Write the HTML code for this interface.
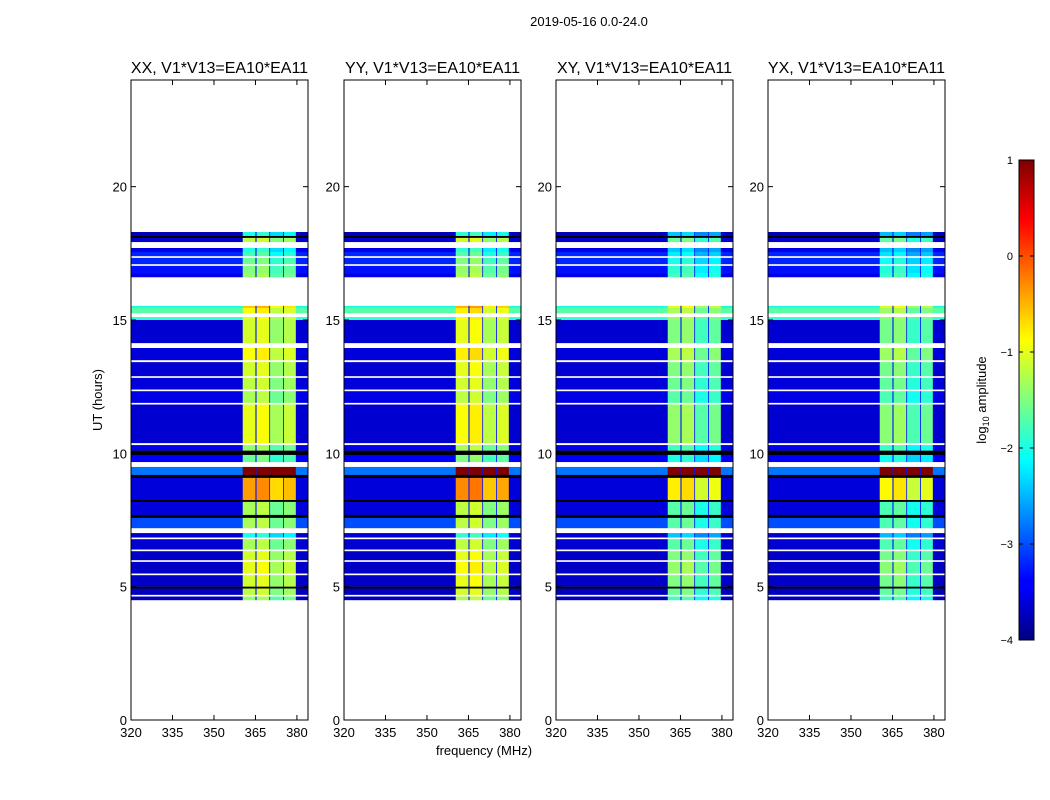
<!DOCTYPE html>
<html><head><meta charset="utf-8">
<style>
html,body{margin:0;padding:0;background:#fff;}
svg{display:block;font-family:"Liberation Sans","DejaVu Sans",sans-serif;}
</style></head>
<body>
<svg id="fig" width="1050" height="800" viewBox="0 0 1050 800">
<defs>
<linearGradient id="jetgrad" x1="0" y1="1" x2="0" y2="0">
<stop offset="0" stop-color="#00007f"/><stop offset="0.11" stop-color="#0000ff"/>
<stop offset="0.125" stop-color="#0000ff"/><stop offset="0.34" stop-color="#00dfff"/>
<stop offset="0.375" stop-color="#00ffff"/><stop offset="0.5" stop-color="#7fff7f"/>
<stop offset="0.625" stop-color="#ffff00"/><stop offset="0.66" stop-color="#ffdf00"/>
<stop offset="0.875" stop-color="#ff0000"/><stop offset="1" stop-color="#7f0000"/>
</linearGradient>
</defs>
<text x="589" y="26" font-size="13" text-anchor="middle">2019-05-16 0.0-24.0</text>
<g id="panels"></g>
<text x="484" y="755" font-size="13" text-anchor="middle">frequency (MHz)</text>
<text x="102" y="400" font-size="13" text-anchor="middle" transform="rotate(-90 102 400)">UT (hours)</text>
<g id="cbar"></g>
</svg>
<script>
const panelTitles = ["XX, V1*V13=EA10*EA11","YY, V1*V13=EA10*EA11","XY, V1*V13=EA10*EA11","YX, V1*V13=EA10*EA11"];
const panelBandOffset = [0, 0.1, -0.4, -0.45];
const bandOffsets = [0, 0.1, -0.3, -0.15];
const xTicks = [320,335,350,365,380];
const yTicks = [0,5,10,15,20];
const cbarTicks = [1,0,-1,-2,-3,-4];
// [tStart, tEnd, baseLevel, bandLevel]; null = flagged (blank), -99 = black
const rows = [
[18.30,18.15,-3.7,-2.0],[18.15,18.08,-99,-99],[18.08,17.93,-3.6,-1.2],[17.93,17.70,null,null],
[17.70,17.55,-3.5,-2.0],[17.55,17.40,-3.2,-1.8],[17.40,17.33,null,null],[17.33,17.10,-3.2,-1.6],
[17.10,17.03,null,null],[17.03,16.76,-3.3,-1.5],[16.76,16.61,-3.5,-1.4],[16.61,15.53,null,null],
[15.53,15.45,-2.0,-0.6],[15.45,15.26,-1.7,-0.9],[15.26,15.11,null,null],[15.11,15.00,-1.9,-1.0],
[15.00,14.14,-3.6,-1.1],[14.14,13.95,null,null],[13.95,13.50,-3.55,-0.9],[13.50,13.42,null,null],
[13.42,12.90,-3.6,-1.1],[12.90,12.83,null,null],[12.83,12.40,-3.55,-1.2],[12.40,12.33,null,null],
[12.33,11.90,-3.5,-1.3],[11.90,11.83,null,null],[11.83,10.39,-3.6,-1.0],[10.39,10.31,null,null],
[10.31,10.10,-3.5,-1.4],[10.10,9.94,-99,-99],[9.94,9.68,-3.4,-1.6],[9.68,9.49,null,null],
[9.49,9.19,-2.8,1.0],[9.19,9.08,-99,-99],[9.08,8.25,-3.55,-0.4],[8.25,8.18,-99,-99],
[8.18,7.69,-3.55,-1.3],[7.69,7.58,-99,-99],[7.58,7.20,-3.0,-1.3],[7.20,7.01,null,null],
[7.01,6.85,-3.6,-2.0],[6.85,6.78,null,null],[6.78,6.40,-3.6,-1.3],[6.40,6.33,null,null],
[6.33,6.00,-3.65,-1.1],[6.00,5.93,null,null],[5.93,5.50,-3.65,-1.0],[5.50,5.43,null,null],
[5.43,5.00,-3.65,-1.1],[5.00,4.93,-99,-99],[4.93,4.70,-3.7,-1.2],[4.70,4.63,null,null],
[4.63,4.50,-3.7,-1.4]
];
// frequency segments [f0, f1, kind]
const segments = [[320,360.4,"base"],[360.4,365,0],[365,365.4,"gap"],[365.4,370,1],[370,370.3,"gap"],[370.3,375,2],[375,375.3,"gap"],[375.3,379.6,3],[379.6,384,"base"]];
const gapLevel = -3.3;

const NS="http://www.w3.org/2000/svg";
const panelLeft=[131,344,556,768], PW=177, PT=80, PH=640;
const fMin=320,fMax=384,tMin=0,tMax=24,vMin=-4,vMax=1;
function jet(v){
  let x=(Math.max(vMin,Math.min(vMax,v))-vMin)/(vMax-vMin);
  function c(t){return Math.round(255*Math.max(0,Math.min(1,1.5-Math.abs(4*x-t))));}
  return `rgb(${c(3)},${c(2)},${c(1)})`;
}
function mk(tag,attrs,parent){const e=document.createElementNS(NS,tag);for(const k in attrs)e.setAttribute(k,attrs[k]);parent.appendChild(e);return e;}
const g=document.getElementById('panels');
panelTitles.forEach((title,p)=>{
  const L=panelLeft[p];
  const xs=f=>L+(f-fMin)/(fMax-fMin)*PW;
  const ys=t=>PT+PH-(t-tMin)/(tMax-tMin)*PH;
  const pg=mk('g',{},g);
  
  
  rows.forEach((r,ri)=>{
    if(r[2]===null) return;
    segments.forEach((s,si)=>{
      let v, col;
      if(r[2]===-99) col='#000';
      else{
        if(s[2]==="base") v=r[2];
        else if(s[2]==="gap") v=Math.min(gapLevel, r[3]);
        else v=r[3]>=0.9? r[3] : r[3]+panelBandOffset[p]+bandOffsets[s[2]];
        col=jet(v);
      }
      const y0=ys(r[0]),y1=ys(r[1]);
      const rc=mk('rect',{x:xs(s[0]).toFixed(2),y:y0.toFixed(2),width:(xs(s[1])-xs(s[0])+0.3).toFixed(2),height:(y1-y0+0.2).toFixed(2),fill:col},pg);
      
      
    });
  });
  const fr=mk('rect',{x:L,y:PT,width:PW,height:PH,fill:'none',stroke:'#000','stroke-width':1},pg);
  
  
  const tt=mk('text',{x:L+PW/2,y:PT-7,'font-size':16,'text-anchor':'middle'},pg);
  tt.textContent=title;
  
  
  xTicks.forEach(f=>{
    const x=xs(f);
    mk('line',{x1:x,y1:PT+PH,x2:x,y2:PT+PH-5,stroke:'#000'},pg);
    mk('line',{x1:x,y1:PT,x2:x,y2:PT+5,stroke:'#000'},pg);
    const t=mk('text',{x:x,y:PT+PH+17,'font-size':13,'text-anchor':'middle'},pg);
    t.textContent=f;
    
    
  });
  yTicks.forEach(v=>{
    const y=ys(v);
    mk('line',{x1:L,y1:y,x2:L+5,y2:y,stroke:'#000'},pg);
    mk('line',{x1:L+PW,y1:y,x2:L+PW-5,y2:y,stroke:'#000'},pg);
    const t=mk('text',{x:L-4,y:y+5,'font-size':13,'text-anchor':'end'},pg);
    t.textContent=v;
    
    
  });
});
// colorbar
const cb=document.getElementById('cbar');
const CX=1019,CW=15,CT=160,CH=480;
const cys=v=>CT+(vMax-v)/(vMax-vMin)*CH;
const cr=mk('rect',{x:CX,y:CT,width:CW,height:CH,fill:'url(#jetgrad)',stroke:'#000','stroke-width':1},cb);


cbarTicks.forEach(v=>{
  const y=cys(v);
  mk('line',{x1:CX,y1:y,x2:CX+4,y2:y,stroke:'#000'},cb);
  mk('line',{x1:CX+CW,y1:y,x2:CX+CW-4,y2:y,stroke:'#000'},cb);
  const t=mk('text',{x:1013,y:y+4,'font-size':11,'text-anchor':'end'},cb);
  t.textContent=v<0?'\u2212'+(-v):v;
  
  
});
const cl=mk('text',{x:986,y:400,'font-size':13,'text-anchor':'middle',transform:'rotate(-90 986 400)'},cb);
cl.innerHTML='log<tspan font-size="9" dy="3">10</tspan><tspan dy="-3"> amplitude</tspan>';


</script>
</body></html>
